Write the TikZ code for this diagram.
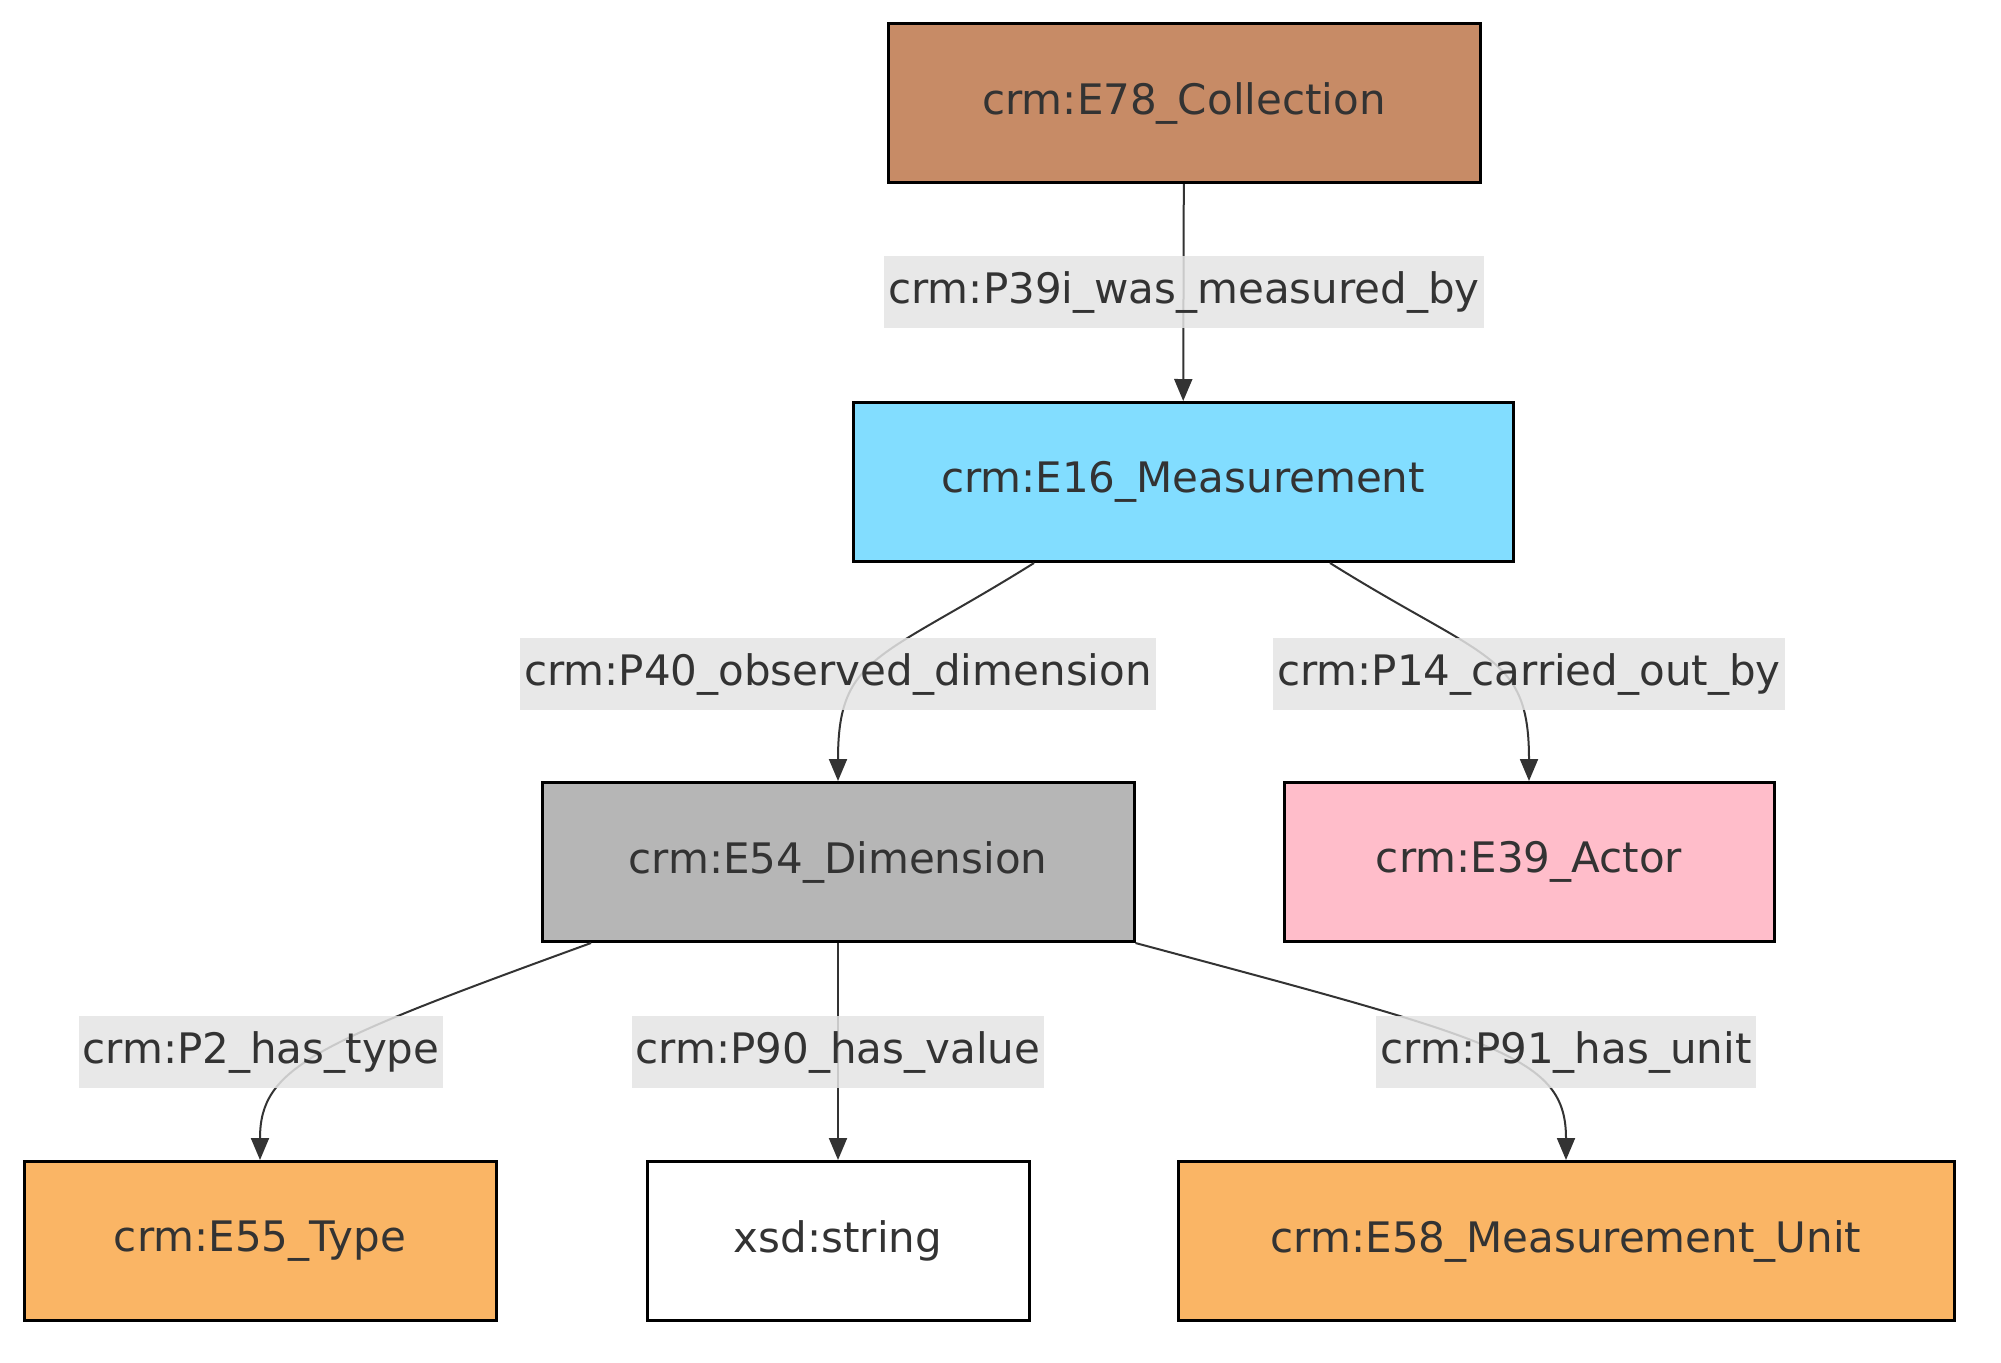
\documentclass[tikz,border=0pt]{standalone}
\usepackage{fontspec}
\setmainfont{DejaVu Sans}
\usepackage{tikz}
\usetikzlibrary{arrows.meta}
\definecolor{boxbrown}{RGB}{199,139,102}
\definecolor{boxblue}{RGB}{130,221,255}
\definecolor{boxgray}{RGB}{182,182,182}
\definecolor{boxpink}{RGB}{255,189,202}
\definecolor{boxorange}{RGB}{250,181,101}
\definecolor{lblgray}{RGB}{228,228,228}
\definecolor{txtgray}{RGB}{51,51,51}

\begin{document}
\begin{tikzpicture}[
  x=0.5pt, y=-0.5pt,
  cls/.style={rectangle, draw=black, line width=1.5pt, minimum height=79.5pt, text=txtgray, font=\fontsize{21}{25}\selectfont},
  prop/.style={rectangle, fill=lblgray, fill opacity=0.85, text opacity=1, text=txtgray, minimum height=36pt, inner xsep=2pt, font=\fontsize{21}{25}\selectfont},
  arr/.style={-{Triangle[length=11pt, width=9pt]}, line width=1pt, draw=txtgray}
]
\useasboundingbox (0,0) rectangle (2001,1362);

\node[cls, fill=boxbrown, minimum width=296pt] (coll) at (1184,103) {crm:E78\_Collection};
\node[cls, fill=boxblue, minimum width=330pt] (meas) at (1183,482) {crm:E16\_Measurement};
\node[cls, fill=boxgray, minimum width=296pt] (dim) at (838,862) {crm:E54\_Dimension};
\node[cls, fill=boxpink, minimum width=245pt] (actor) at (1529,862) {crm:E39\_Actor};
\node[cls, fill=boxorange, minimum width=236pt] (type) at (260,1241) {crm:E55\_Type};
\node[cls, fill=white, minimum width=191pt] (str) at (838,1241) {xsd:string};
\node[cls, fill=boxorange, minimum width=388pt] (unit) at (1566,1241) {crm:E58\_Measurement\_Unit};

% edges
\draw[arr] (coll) -- (meas);
\draw[arr] ([xshift=-74.5pt]meas.south) to[out=-148, in=90, out looseness=1.6, in looseness=1.1] (dim.north);
\draw[arr] ([xshift=73.5pt]meas.south) to[out=-32, in=90, out looseness=1.6, in looseness=1.1] (actor.north);
\draw[arr] ([xshift=-123.5pt]dim.south) to[out=-160, in=90, out looseness=1.9, in looseness=0.6] (type.north);
\draw[arr] (dim) -- (str);
\draw[arr] (dim.south east) to[out=-15, in=90, out looseness=2, in looseness=0.55] (unit.north);

% edge labels
\node[prop] (p39) at (1184,292) {crm:P39i\_was\_measured\_by};
\node[prop] (p40) at (838,674) {crm:P40\_observed\_dimension};
\node[prop] (p14) at (1529,674) {crm:P14\_carried\_out\_by};
\node[prop] (p2) at (261,1052) {crm:P2\_has\_type};
\node[prop] (p90) at (838,1052) {crm:P90\_has\_value};
\node[prop] (p91) at (1566,1052) {crm:P91\_has\_unit};
\end{tikzpicture}
\end{document}
